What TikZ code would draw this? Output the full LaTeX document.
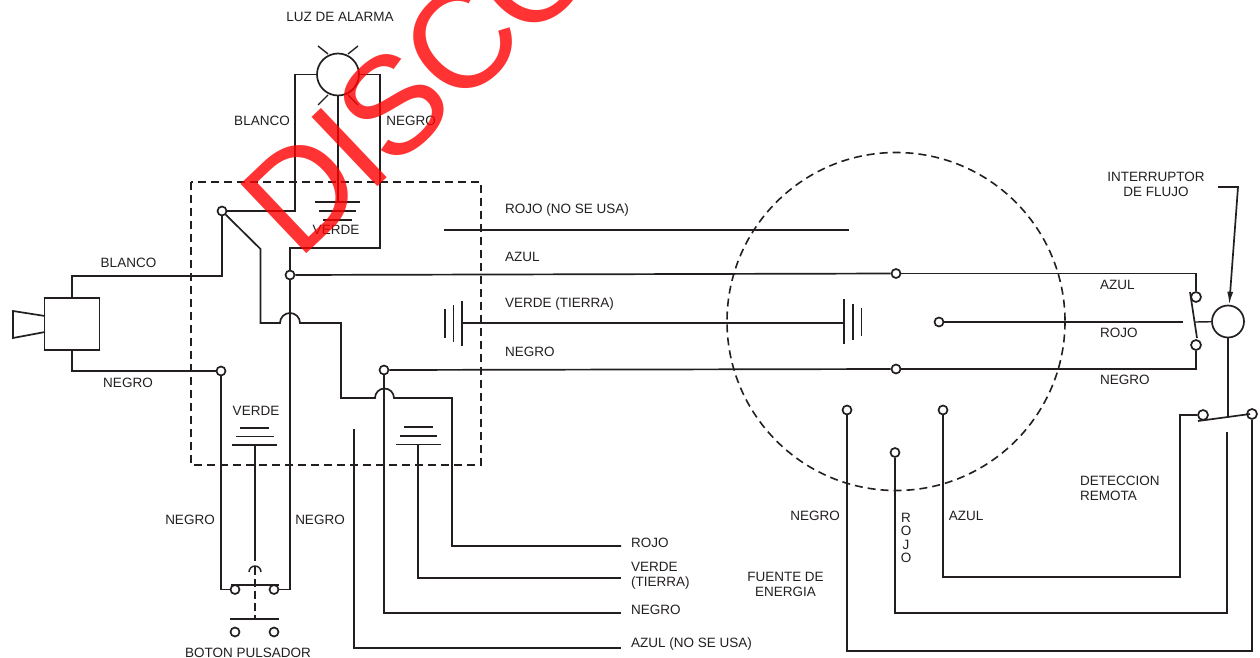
\documentclass[tikz,border=0pt]{standalone}
\usepackage{fontspec}
\setmainfont{Liberation Sans}
\newfontfamily\stampfont[LetterSpace=-3]{Liberation Sans}
\usetikzlibrary{arrows.meta}
\definecolor{wirecol}{RGB}{35,31,32}
\tikzset{
  wire/.style={draw=wirecol, line width=1.7pt, line join=miter},
  thinwire/.style={draw=wirecol, line width=1.4pt},
  dashwire/.style={draw=wirecol, line width=1.6pt, dash pattern=on 8pt off 5pt},
  term/.style={circle, draw=wirecol, line width=1.7pt, inner sep=0pt, minimum size=9pt},
  lbl/.style={inner sep=0pt, text=wirecol, font=\fontsize{13.5}{15}\selectfont, align=center},
  lbll/.style={lbl, align=left},
  stamp/.style={inner sep=0pt, text=red, text opacity=.8, font=\stampfont\fontsize{139}{139}\selectfont}
}
\begin{document}
\begin{tikzpicture}[x=1pt,y=-1pt]
      \useasboundingbox (0,0) rectangle (1260,658);
      \clip (0,0) rectangle (1260,658);

      % enclosures
      \draw[dashwire] (191,182) rectangle (481,465);
      \draw[dashwire] (896,321.5) circle (169);

      % terminals
      \node[term] (termWhite) at (222,211) {};
      \node[term] (termBlueA) at (290,275) {};
      \node[term] (termBlackL) at (221,371) {};
      \node[term] (termBlackM) at (384,370) {};
      \node[term] (termBlueB) at (896,273.5) {};
      \node[term] (termBlackB) at (896,369) {};
      \node[term] (termRed) at (939,322) {};
      \node[term] (termN) at (847,410) {};
      \node[term] (termR) at (895,452.5) {};
      \node[term] (termA) at (943,410) {};

      % lamp
      \node[circle, wire, draw, inner sep=0pt, minimum size=42pt] (lamp) at (338,74.5) {};
      \draw[thinwire] (328,54) -- (318,46);
      \draw[thinwire] (348,54) -- (358,46);
      \draw[thinwire] (328,95) -- (318,105);
      \draw[thinwire] (348,95) -- (358,105);
      \draw[wire] (lamp.west) -| (295,211) -- (termWhite);
      \draw[wire] (lamp.east) -| (380,248) -| (termBlueA);
      \draw[wire] (lamp.south) -- (338,202);
      \draw[thinwire] (315,202) -- (360,202);
      \draw[thinwire] (319,211) -- (356,211);
      \draw[thinwire] (323,220) -- (352,220);

      % horn
      \node[draw=wirecol, line width=1.7pt, inner sep=0pt, minimum width=55pt, minimum height=52pt] (horn) at (72,324) {};
      \draw[wire] (45,316) -- (13,311) -- (13,338) -- (45,332);
      \draw[wire] (horn.north) |- (222,276) -- (termWhite);
      \draw[wire] (horn.south) |- (termBlackL);

      % crossing wire
      \draw[wire] (termWhite) -- (260.5,249) -- (260.5,323) -- (280,323) arc (180:360:10)
        -- (341,323) -- (341,398) -- (375,398) arc (180:360:9.5) -- (452,398) -- (452,546)
        coordinate (endRojo) -- (621,546);

      % long wires
      \draw[wire] (444,230) -- (849,230);
      \draw[wire] (termBlueA) -- (termBlueB);
      \draw[wire] (termBlackM) -- (termBlackB);
      \draw[wire] (462,323) -- (844,323);
      \draw[wire] (462,300.5) -- (462,346);
      \draw[thinwire] (453.5,305) -- (453.5,342);
      \draw[thinwire] (445,309) -- (445,338);
      \draw[wire] (844,299) -- (844,344);
      \draw[thinwire] (853,304) -- (853,340);
      \draw[thinwire] (861.5,308) -- (861.5,336);

      % left lower wires and grounds
      \draw[thinwire] (240,428) -- (269,428);
      \draw[thinwire] (236,436.5) -- (274,436.5);
      \draw[thinwire] (232,445) -- (277,445);
      \draw[wire] (255,445) -- (255,561);
      \draw[thinwire] (404,427) -- (433,427);
      \draw[thinwire] (400,436) -- (437,436);
      \draw[thinwire] (396,444.5) -- (441,444.5);

      % push button
      \node[term] (btnA) at (235,589.5) {};
      \node[term] (btnB) at (274,589.5) {};
      \node[term] (btnC) at (235,632) {};
      \node[term] (btnD) at (274,632) {};
      \draw[wire] (termBlackL) |- (btnA);
      \draw[wire] (termBlueA) |- (btnB);
      \draw[wire] (231,585) -- (279,585);
      \draw[wire] (230,619) -- (279,619);
      \draw[thinwire] (249,572) arc (180:360:6);
      \draw[thinwire, dash pattern=on 8pt off 4pt] (255,567) -- (255,619);

      % wires to the bottom
      \coordinate (endNegro) at (621,613);
      \coordinate (endAzul) at (621,648);
      \coordinate (endVerde) at (621,578);
      \draw[wire] (termBlackM) |- (endNegro);
      \draw[wire] (354,429) |- (endAzul);
      \draw[wire] (418,444.5) |- (endVerde);

      % flow switch
      \node[circle, wire, draw, inner sep=0pt, minimum size=32pt] (flow) at (1228,321.5) {};
      \node[term, minimum size=10pt] (swTop) at (1196,297) {};
      \node[term, minimum size=10pt] (swBot) at (1196,345) {};
      \node[term, minimum size=10pt] (swL) at (1203,415) {};
      \node[term, minimum size=10pt] (swR) at (1252,414) {};
      \draw[wire] (termBlueB) -| (swTop);
      \draw[wire] (termBlackB) -| (swBot);
      \draw[wire] (1190,292) -- (1197,338);
      \draw[wire] (termRed) -- (1183,322);
      \draw[thinwire] (1195,322) -- (flow);
      \draw[wire] (flow) -- (1228,418);
      \draw[wire] (1198,421) -- (1250,414);
      \draw[wire] (swL) -| (1180,577) -| (termA);
      \draw[wire] (1227,432) |- (895,613) -- (termR);
      \draw[wire] (swR) |- (847,651) -- (termN);
      \draw[wire, -{Latex[length=13pt,width=6pt]}] (1218,187) -- (1238,187) -- (flow);

      % labels
      \node[lbl] (lblLuz) at (340,17) {LUZ DE ALARMA};
      \node[lbl] (lblBlancoA) at (262,121) {BLANCO};
      \node[lbl] (lblNegroA) at (411,121) {NEGRO};
      \node[lbl] (lblVerdeA) at (336,230) {VERDE};
      \node[lbl] (lblBlancoB) at (128.5,263) {BLANCO};
      \node[lbl] (lblNegroB) at (128,383) {NEGRO};
      \node[lbl] (lblVerdeB) at (256,411) {VERDE};
      \node[lbl] (lblNegroC) at (190,520) {NEGRO};
      \node[lbl] (lblNegroD) at (320,520) {NEGRO};
      \node[lbl] (lblBoton) at (248,653) {BOTON PULSADOR};
      \node[lbll, anchor=west] (lblRojoNo) at (505,210) {ROJO (NO SE USA)};
      \node[lbll, anchor=west] (lblAzulM) at (505,257) {AZUL};
      \node[lbll, anchor=west] (lblVerdeM) at (505,304) {VERDE (TIERRA)};
      \node[lbll, anchor=west] (lblNegroM) at (505,352) {NEGRO};
      \node[lbll, anchor=west] (lblRojoE) at (631,543) {ROJO};
      \node[lbll, anchor=west] (lblVerdeE) at (631,576) {VERDE\\(TIERRA)};
      \node[lbll, anchor=west] (lblNegroE) at (631,610) {NEGRO};
      \node[lbll, anchor=west] (lblAzulE) at (631,644) {AZUL (NO SE USA)};
      \node[lbl] (lblFuente) at (785.5,584.5) {FUENTE DE\\ENERGIA};
      \node[lbl] (lblNegroF) at (815,516) {NEGRO};
      \node[lbl, font=\fontsize{13.5}{13.5}\selectfont] (lblRojoV) at (906,538) {R\\O\\J\\O};
      \node[lbl] (lblAzulF) at (966,516) {AZUL};
      \node[lbll, anchor=west] (lblDeteccion) at (1080,488.5) {DETECCION\\REMOTA};
      \node[lbll, anchor=west] (lblAzulS) at (1100,285) {AZUL};
      \node[lbll, anchor=west] (lblRojoS) at (1100,333) {ROJO};
      \node[lbll, anchor=west] (lblNegroS) at (1100,380) {NEGRO};
      \node[lbl] (lblFlujo) at (1156,184) {INTERRUPTOR\\DE FLUJO};

      % stamp
      \node[stamp, rotate=43.5, anchor=base west] (stampDisco) at (298,262) {DISCO};
\end{tikzpicture}
\end{document}
